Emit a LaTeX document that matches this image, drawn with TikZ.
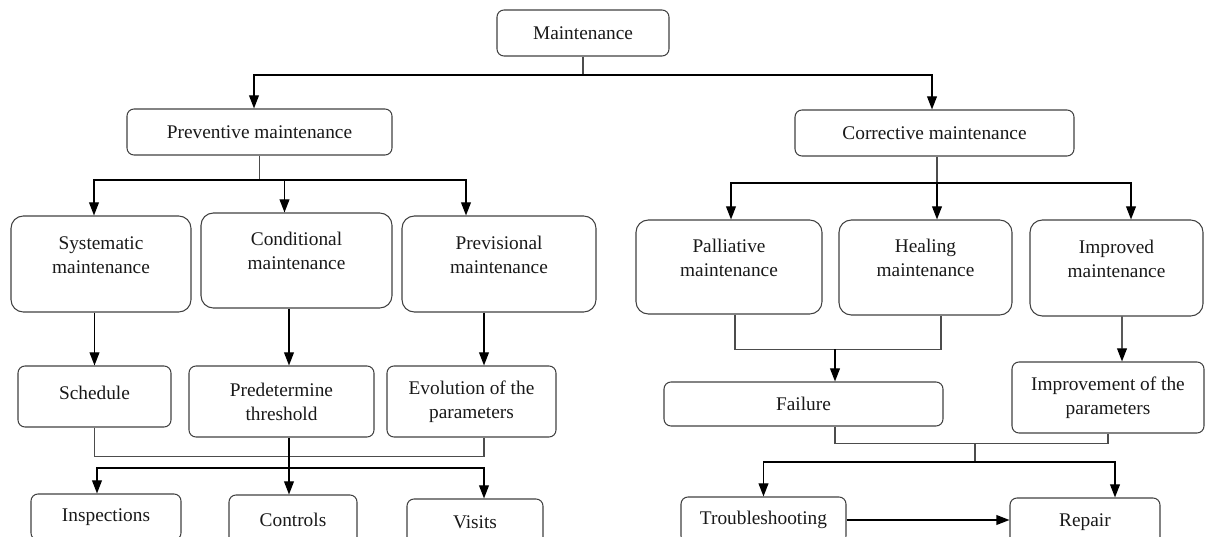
\documentclass[tikz,border=0pt]{standalone}
\usepackage{fontspec}
\setmainfont{Liberation Serif}
\usetikzlibrary{arrows.meta}

\begin{document}
\begin{tikzpicture}[
    box/.style={
        draw=black!75, line width=0.6pt, rounded corners=4pt,
        align=center, inner sep=0pt, text=black!90,
        font=\fontsize{11pt}{13.6pt}\selectfont
    },
    bigbox/.style={box, rounded corners=7pt, minimum height=1.9cm},
    link/.style={line width=0.6pt, black!70},
    arr/.style={->, >={Triangle[length=7.5pt,width=5.6pt]}, line width=0.8pt, black}
]
    \useasboundingbox (0,0) rectangle (24.12,-10.74);

    % Top: Maintenance
    \node[box, minimum width=3.44cm, minimum height=0.92cm] (maint) at (11.66,-0.66) {Maintenance};

    % Level 1
    \node[box, minimum width=5.3cm, minimum height=0.92cm] (prev) at (5.19,-2.64) {Preventive maintenance};
    \node[box, minimum width=5.58cm, minimum height=0.92cm] (corr) at (18.69,-2.66) {Corrective maintenance};

    % Level 2: preventive side
    \node[bigbox, minimum width=3.6cm, minimum height=1.92cm] (syst) at (2.02,-5.28) {Systematic\\maintenance\\[-3pt]\mbox{}};
    \node[bigbox, minimum width=3.82cm] (cond) at (5.93,-5.21) {Conditional\\maintenance\\[-3pt]\mbox{}};
    \node[bigbox, minimum width=3.88cm, minimum height=1.92cm] (prevs) at (9.98,-5.28) {Previsional\\maintenance\\[-3pt]\mbox{}};

    % Level 2: corrective side
    \node[bigbox, minimum width=3.72cm, minimum height=1.88cm] (pall) at (14.58,-5.34) {Palliative\\maintenance\\[-3pt]\mbox{}};
    \node[bigbox, minimum width=3.46cm] (heal) at (18.51,-5.35) {Healing\\maintenance\\[-3pt]\mbox{}};
    \node[bigbox, minimum width=3.46cm, minimum height=1.92cm] (impd) at (22.33,-5.36) {Improved\\maintenance\\[-3pt]\mbox{}};

    % Level 3
    \node[box, minimum width=3.06cm, minimum height=1.22cm] (sched) at (1.89,-7.93) {Schedule\\[-9pt]\mbox{}};
    \node[box, minimum width=3.7cm, minimum height=1.42cm] (pred) at (5.63,-8.03) {Predetermine\\threshold};
    \node[box, minimum width=3.38cm, minimum height=1.42cm] (evol) at (9.43,-8.03) {Evolution of the\\parameters};
    \node[box, minimum width=5.58cm, minimum height=0.88cm] (fail) at (16.07,-8.08) {Failure};
    \node[box, minimum width=3.84cm, minimum height=1.42cm] (impr) at (22.16,-7.95) {Improvement of the\\parameters};

    % Level 4 (cut by the page edge)
    \node[box, minimum width=3.0cm, minimum height=0.92cm] (insp) at (2.12,-10.34) {Inspections};
    \node[box, minimum width=2.56cm, minimum height=1.0cm] (ctrl) at (5.86,-10.4) {Controls};
    \node[box, minimum width=2.72cm, minimum height=0.92cm] (visit) at (9.5,-10.44) {Visits};
    \node[box, minimum width=3.3cm, minimum height=0.92cm] (trbl) at (15.27,-10.4) {Troubleshooting};
    \node[box, minimum width=3.0cm, minimum height=0.96cm] (rep) at (21.7,-10.44) {Repair};

    % Maintenance -> preventive / corrective
    \coordinate (mj) at (maint.south |- 0,-1.5);
    \draw[link] (maint.south) -- (mj);
    \draw[arr] (mj) -| ([xshift=-0.11cm]prev.north);
    \draw[arr] (mj) -| ([xshift=-0.05cm]corr.north);

    % Preventive branch
    \coordinate (pj) at (prev.south |- 0,-3.6);
    \draw[link] (prev.south) -- (pj);
    \draw[arr] (pj) -| ([xshift=-0.14cm]syst.north);
    \draw[arr] (pj) -| ([xshift=-0.24cm]cond.north);
    \draw[arr] (pj) -| ([xshift=-0.66cm]prevs.north);

    % Corrective branch
    \coordinate (cj) at ([xshift=0.05cm]corr.south |- 0,-3.66);
    \draw[link] ([xshift=0.05cm]corr.south) -- (cj);
    \draw[arr] (cj) -| ([xshift=0.04cm]pall.north);
    \draw[arr] (cj) -- (cj |- heal.north);
    \draw[arr] (cj) -| ([xshift=0.29cm]impd.north);

    % Level 2 -> level 3
    \coordinate (pa) at ([xshift=0.15cm]pred.north);
    \coordinate (ea) at ([xshift=0.25cm]evol.north);
    \draw[arr] (sched.north |- syst.south) -- (sched.north);
    \draw[arr] (pa |- cond.south) -- (pa);
    \draw[arr] (ea |- prevs.south) -- (ea);
    \draw[arr] ([xshift=0.11cm]impd.south) -- ([xshift=0.28cm]impr.north);

    % Level 3 -> inspections / controls / visits
    \draw[link] (sched.south) -- ++(0,-0.58) -| ([xshift=0.25cm]evol.south);
    \coordinate (bj) at (pa |- 0,-9.36);
    \draw[arr] (pred.south -| pa) -- (ctrl.north -| pa);
    \draw[arr] (bj) -| ([xshift=-0.18cm]insp.north);
    \draw[arr] (bj) -| ([xshift=0.18cm]visit.north);

    % Palliative / healing -> failure
    \coordinate (fj) at (16.7,-6.98);
    \draw[link] ([xshift=0.12cm]pall.south) -- ++(0,-0.7) -| ([xshift=0.31cm]heal.south);
    \draw[arr] (fj) -- (fj |- fail.north);

    % Failure / improvement -> troubleshooting / repair
    \coordinate (rj) at (19.5,-9.24);
    \draw[link] ([xshift=0.63cm]fail.south) -- ++(0,-0.34) -| (impr.south);
    \draw[link] (rj |- 0,-8.86) -- (rj);
    \draw[arr] (rj) -| (trbl.north);
    \draw[arr] (rj) -| ([xshift=0.6cm]rep.north);
    \draw[arr] (trbl.east) -- (trbl.east -| rep.west);

\end{tikzpicture}
\end{document}
